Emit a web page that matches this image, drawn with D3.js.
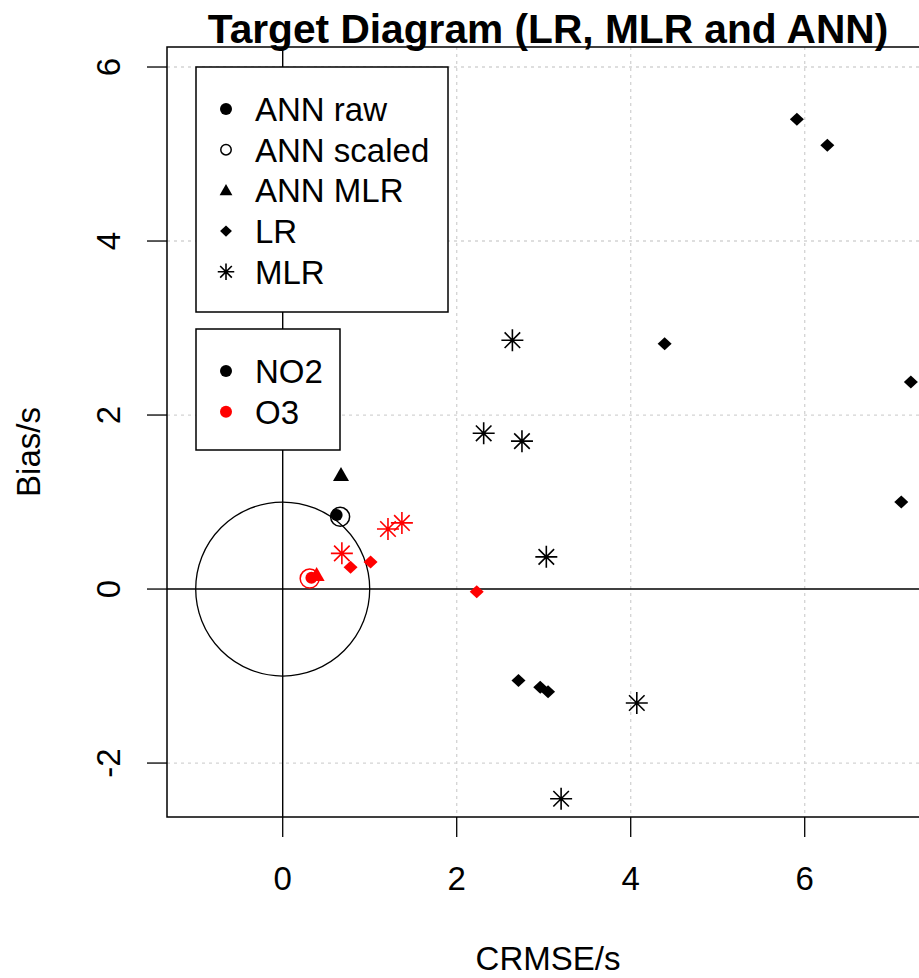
<!DOCTYPE html>
<html>
<head>
<meta charset="utf-8">
<script src="https://cdn.jsdelivr.net/npm/d3@7"></script>
<style>
  body { margin: 0; background: #fff; }
  svg text { font-family: "Liberation Sans", Arial, sans-serif; }
</style>
</head>
<body>
<svg id="chart" width="919" height="978"></svg>
<script>
// axis settings
const xDomain = [-1.33, 8.4];
const yDomain = [-2.62, 6.23];
const xTicks = [0, 2, 4, 6];
const yTicks = [-2, 0, 2, 4, 6];

// NO2 (black)
const no2LR = [[5.91, 5.40], [6.26, 5.10], [4.39, 2.82], [7.22, 2.38], [7.11, 1.00],
               [2.71, -1.05], [2.96, -1.13], [3.05, -1.18]];
const no2MLR = [[2.64, 2.86], [2.31, 1.79], [2.75, 1.70], [3.03, 0.37], [4.07, -1.31], [3.20, -2.41]];
const no2AnnRaw = [[0.62, 0.85]];
const no2AnnScaled = [[0.66, 0.83]];
const no2AnnMLR = [[0.67, 1.31]];

// O3 (red)
const o3LR = [[0.78, 0.25], [1.01, 0.31], [2.23, -0.03]];
const o3MLR = [[0.68, 0.41], [1.21, 0.69], [1.37, 0.76]];
const o3AnnRaw = [[0.33, 0.13]];
const o3AnnScaled = [[0.31, 0.12]];
const o3AnnMLR = [[0.39, 0.16]];

const legendMethods = ['ANN raw', 'ANN scaled', 'ANN MLR', 'LR', 'MLR'];
const legendPollutants = ['NO2', 'O3'];

const svg = d3.select('#chart');
const plot = { left: 167, top: 47, bottom: 817 };
const unit = 87;

const x = d3.scaleLinear().domain(xDomain)
  .range([plot.left, plot.left + (xDomain[1] - xDomain[0]) * unit]);
const y = d3.scaleLinear().domain(yDomain).range([plot.bottom, plot.top]);

svg.append('clipPath').attr('id', 'clip')
  .append('rect')
  .attr('x', x.range()[0]).attr('y', plot.top)
  .attr('width', x.range()[1] - x.range()[0]).attr('height', plot.bottom - plot.top);

const g = svg.append('g').attr('clip-path', 'url(#clip)');

// grid (dotted, light grey)
g.selectAll('.vgrid').data([2, 4, 6, 8]).enter()
  .append('line')
  .attr('x1', d => x(d)).attr('x2', d => x(d))
  .attr('y1', plot.top).attr('y2', plot.bottom)
  .attr('stroke', '#d3d3d3').attr('stroke-width', 1.3).attr('stroke-dasharray', '3,4');
g.selectAll('.hgrid').data(yTicks.filter(d => d !== 0)).enter()
  .append('line')
  .attr('x1', x.range()[0]).attr('x2', x.range()[1])
  .attr('y1', d => y(d)).attr('y2', d => y(d))
  .attr('stroke', '#d3d3d3').attr('stroke-width', 1.3).attr('stroke-dasharray', '3,4');

// zero lines
g.append('line').attr('x1', x(0)).attr('x2', x(0)).attr('y1', plot.top).attr('y2', plot.bottom)
  .attr('stroke', '#000').attr('stroke-width', 1.4);
g.append('line').attr('x1', x.range()[0]).attr('x2', x.range()[1]).attr('y1', y(0)).attr('y2', y(0))
  .attr('stroke', '#000').attr('stroke-width', 1.4);

// unit circle
g.append('ellipse')
  .attr('cx', x(0)).attr('cy', y(0))
  .attr('rx', x(1) - x(0)).attr('ry', y(0) - y(1))
  .attr('fill', 'none').attr('stroke', '#000').attr('stroke-width', 1.3);

// symbol drawers
function drawSymbol(sel, type, color, size) {
  const s = size || 1;
  if (type === 'raw') {
    sel.append('circle').attr('r', 6 * s).attr('fill', color);
  } else if (type === 'scaled') {
    sel.append('circle').attr('r', 9.5 * s).attr('fill', 'none').attr('stroke', color).attr('stroke-width', 1.5);
  } else if (type === 'annmlr') {
    sel.append('path').attr('d', `M0,${-8 * s}L${8 * s},${6 * s}L${-8 * s},${6 * s}Z`).attr('fill', color);
  } else if (type === 'lr') {
    sel.append('path').attr('d', `M0,${-6.5 * s}L${7 * s},0L0,${6.5 * s}L${-7 * s},0Z`).attr('fill', color);
  } else if (type === 'mlr') {
    const r = 11 * s, q = r * 0.707;
    sel.append('path')
      .attr('d', `M${-r},0H${r}M0,${-r}V${r}M${-q},${-q}L${q},${q}M${-q},${q}L${q},${-q}`)
      .attr('stroke', color).attr('stroke-width', 1.6).attr('fill', 'none');
  }
}

function layer(data, type, color) {
  g.selectAll(null).data(data).enter()
    .append('g')
    .attr('transform', d => `translate(${x(d[0])},${y(d[1])})`)
    .each(function() { drawSymbol(d3.select(this), type, color); });
}

layer(no2LR, 'lr', '#000');
layer(no2MLR, 'mlr', '#000');
layer(no2AnnMLR, 'annmlr', '#000');
layer(no2AnnRaw, 'raw', '#000');
layer(no2AnnScaled, 'scaled', '#000');
layer(o3LR, 'lr', '#ff0000');
layer(o3MLR, 'mlr', '#ff0000');
layer(o3AnnMLR, 'annmlr', '#ff0000');
layer(o3AnnRaw, 'raw', '#ff0000');
layer(o3AnnScaled, 'scaled', '#ff0000');

// plot box
svg.append('rect')
  .attr('x', x.range()[0]).attr('y', plot.top)
  .attr('width', x.range()[1] - x.range()[0]).attr('height', plot.bottom - plot.top)
  .attr('fill', 'none').attr('stroke', '#000').attr('stroke-width', 1.5);

// x axis
const xAxis = svg.append('g');
xAxis.selectAll('line').data(xTicks).enter().append('line')
  .attr('x1', d => x(d)).attr('x2', d => x(d))
  .attr('y1', plot.bottom).attr('y2', plot.bottom + 20)
  .attr('stroke', '#000').attr('stroke-width', 1.3);
xAxis.selectAll('text').data(xTicks).enter().append('text')
  .attr('x', d => x(d)).attr('y', 890)
  .attr('text-anchor', 'middle').attr('font-size', 33)
  .text(d => d);

// y axis
const yAxis = svg.append('g');
yAxis.selectAll('line').data(yTicks).enter().append('line')
  .attr('x1', plot.left - 20).attr('x2', plot.left)
  .attr('y1', d => y(d)).attr('y2', d => y(d))
  .attr('stroke', '#000').attr('stroke-width', 1.3);
yAxis.selectAll('text').data(yTicks).enter().append('text')
  .attr('transform', d => `translate(120,${y(d)}) rotate(-90)`)
  .attr('text-anchor', 'middle').attr('font-size', 33)
  .text(d => d);

// titles
svg.append('text').attr('x', 548).attr('y', 43)
  .attr('text-anchor', 'middle').attr('font-size', 40.7).attr('font-weight', 'bold')
  .text('Target Diagram (LR, MLR and ANN)');
svg.append('text').attr('x', 548).attr('y', 970)
  .attr('text-anchor', 'middle').attr('font-size', 33)
  .text('CRMSE/s');
svg.append('text').attr('transform', 'translate(40,452) rotate(-90)')
  .attr('text-anchor', 'middle').attr('font-size', 33)
  .text('Bias/s');

// legends
function legend(top, width, height, labels, symbolFor) {
  const lg = svg.append('g');
  lg.append('rect').attr('x', 196).attr('y', top).attr('width', width).attr('height', height)
    .attr('fill', '#fff').attr('stroke', '#000').attr('stroke-width', 1.5);
  const item = lg.selectAll('.item').data(labels).enter().append('g')
    .attr('transform', (d, i) => `translate(226,${top + 42 + i * 40.7})`);
  item.each(function(d, i) { symbolFor(d3.select(this), i); });
  item.append('text').attr('x', 29).attr('y', 12).attr('font-size', 33).text(d => d);
}

const legendTypes = ['raw', 'scaled', 'annmlr', 'lr', 'mlr'];
legend(67, 252, 245, legendMethods, (sel, i) => {
  const sizes = [1, 0.55, 0.8, 0.85, 0.75];
  drawSymbol(sel, legendTypes[i], '#000', sizes[i]);
});
legend(329, 144, 121, legendPollutants, (sel, i) => {
  drawSymbol(sel, 'raw', i === 0 ? '#000' : '#ff0000');
});
</script>
</body>
</html>
